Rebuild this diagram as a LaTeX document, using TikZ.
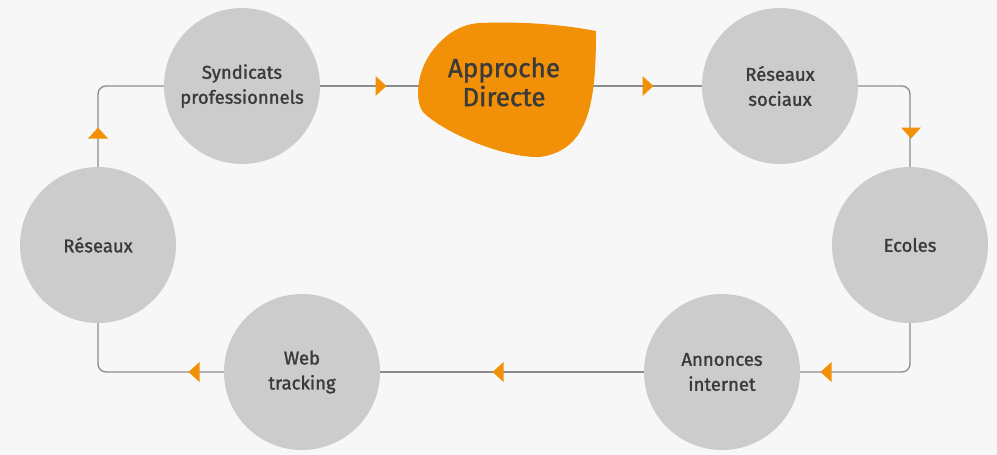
\documentclass[tikz,border=0pt]{standalone}
\usepackage{fontspec}
\setmainfont{Fira Sans}[FakeBold=1.4]
\definecolor{bgc}{HTML}{F7F7F7}
\definecolor{circgray}{HTML}{CCCCCC}
\definecolor{linegray}{HTML}{8C8C8C}
\definecolor{orng}{HTML}{F29107}
\definecolor{txt}{HTML}{3A3A3A}
\pgfdeclarelayer{back}
\pgfdeclarelayer{lines}
\pgfsetlayers{back,lines,main}
\begin{document}
\begin{tikzpicture}[x=1pt,y=-1pt,
  circ/.style={circle, fill=circgray, minimum size=156pt, inner sep=0pt, text=txt,
    font=\fontsize{18.5}{25}\selectfont, align=center},
  conn/.style={draw=linegray, line width=1.3pt},
  triR/.pic={\fill[orng] (-5.5,-10) -- (5.5,0) -- (-5.5,10) -- cycle;},
  triL/.pic={\fill[orng] (5.5,-10) -- (-5.5,0) -- (5.5,10) -- cycle;},
  triD/.pic={\fill[orng] (-10,-5.5) -- (10,-5.5) -- (0,5.5) -- cycle;},
  triU/.pic={\fill[orng] (-10,5.5) -- (10,5.5) -- (0,-5.5) -- cycle;}]
\begin{pgfonlayer}{back}
\fill[bgc] (0,0) rectangle (997,455);
\end{pgfonlayer}
\useasboundingbox (0,0) rectangle (997,455);

\node[circ] (synd) at (242,86) {Syndicats\\professionnels};
\node[circ] (rsoc) at (780,86) {Réseaux\\sociaux};
\node[circ] (ecol) at (910,245) {Ecoles};
\node[circ] (anno) at (722,372) {Annonces\\internet};
\node[circ] (web) at (302,372) {Web\\tracking};
\node[circ] (res) at (98,245) {Réseaux};

\fill[orng] (480,23) .. controls (530,21) and (570,26) .. (596,31)
  .. controls (596,100) and (590,150) .. (540,157)
  .. controls (500,158) and (440,130) .. (423,112)
  .. controls (414,100) and (417,70) .. (433,50)
  .. controls (445,35) and (460,24) .. (480,23) -- cycle;
\node[text=txt, font=\fontsize{26}{29}\selectfont, align=center, inner sep=0pt] (appr) at (504,82) {Approche\\Directe};

\begin{pgfonlayer}{lines}
\draw[conn] (synd.center) -- (synd.center -| appr.center);
\draw[conn] (rsoc.center -| appr.center) -- (rsoc.center);
\draw[conn, rounded corners=8pt] (rsoc.center) -| (ecol.center);
\draw[conn, rounded corners=8pt] (ecol.center) |- (anno.center);
\draw[conn] (anno.center) -- (web.center);
\draw[conn, rounded corners=8pt] (web.center) -| (res.center);
\draw[conn, rounded corners=8pt] (res.center) |- (synd.center);
\end{pgfonlayer}

\pic at (381,86) {triR};
\pic at (648,86) {triR};
\pic at (911,133) {triD};
\pic at (826,372) {triL};
\pic at (498,372) {triL};
\pic at (194,372) {triL};
\pic at (98,133) {triU};
\end{tikzpicture}
\end{document}
